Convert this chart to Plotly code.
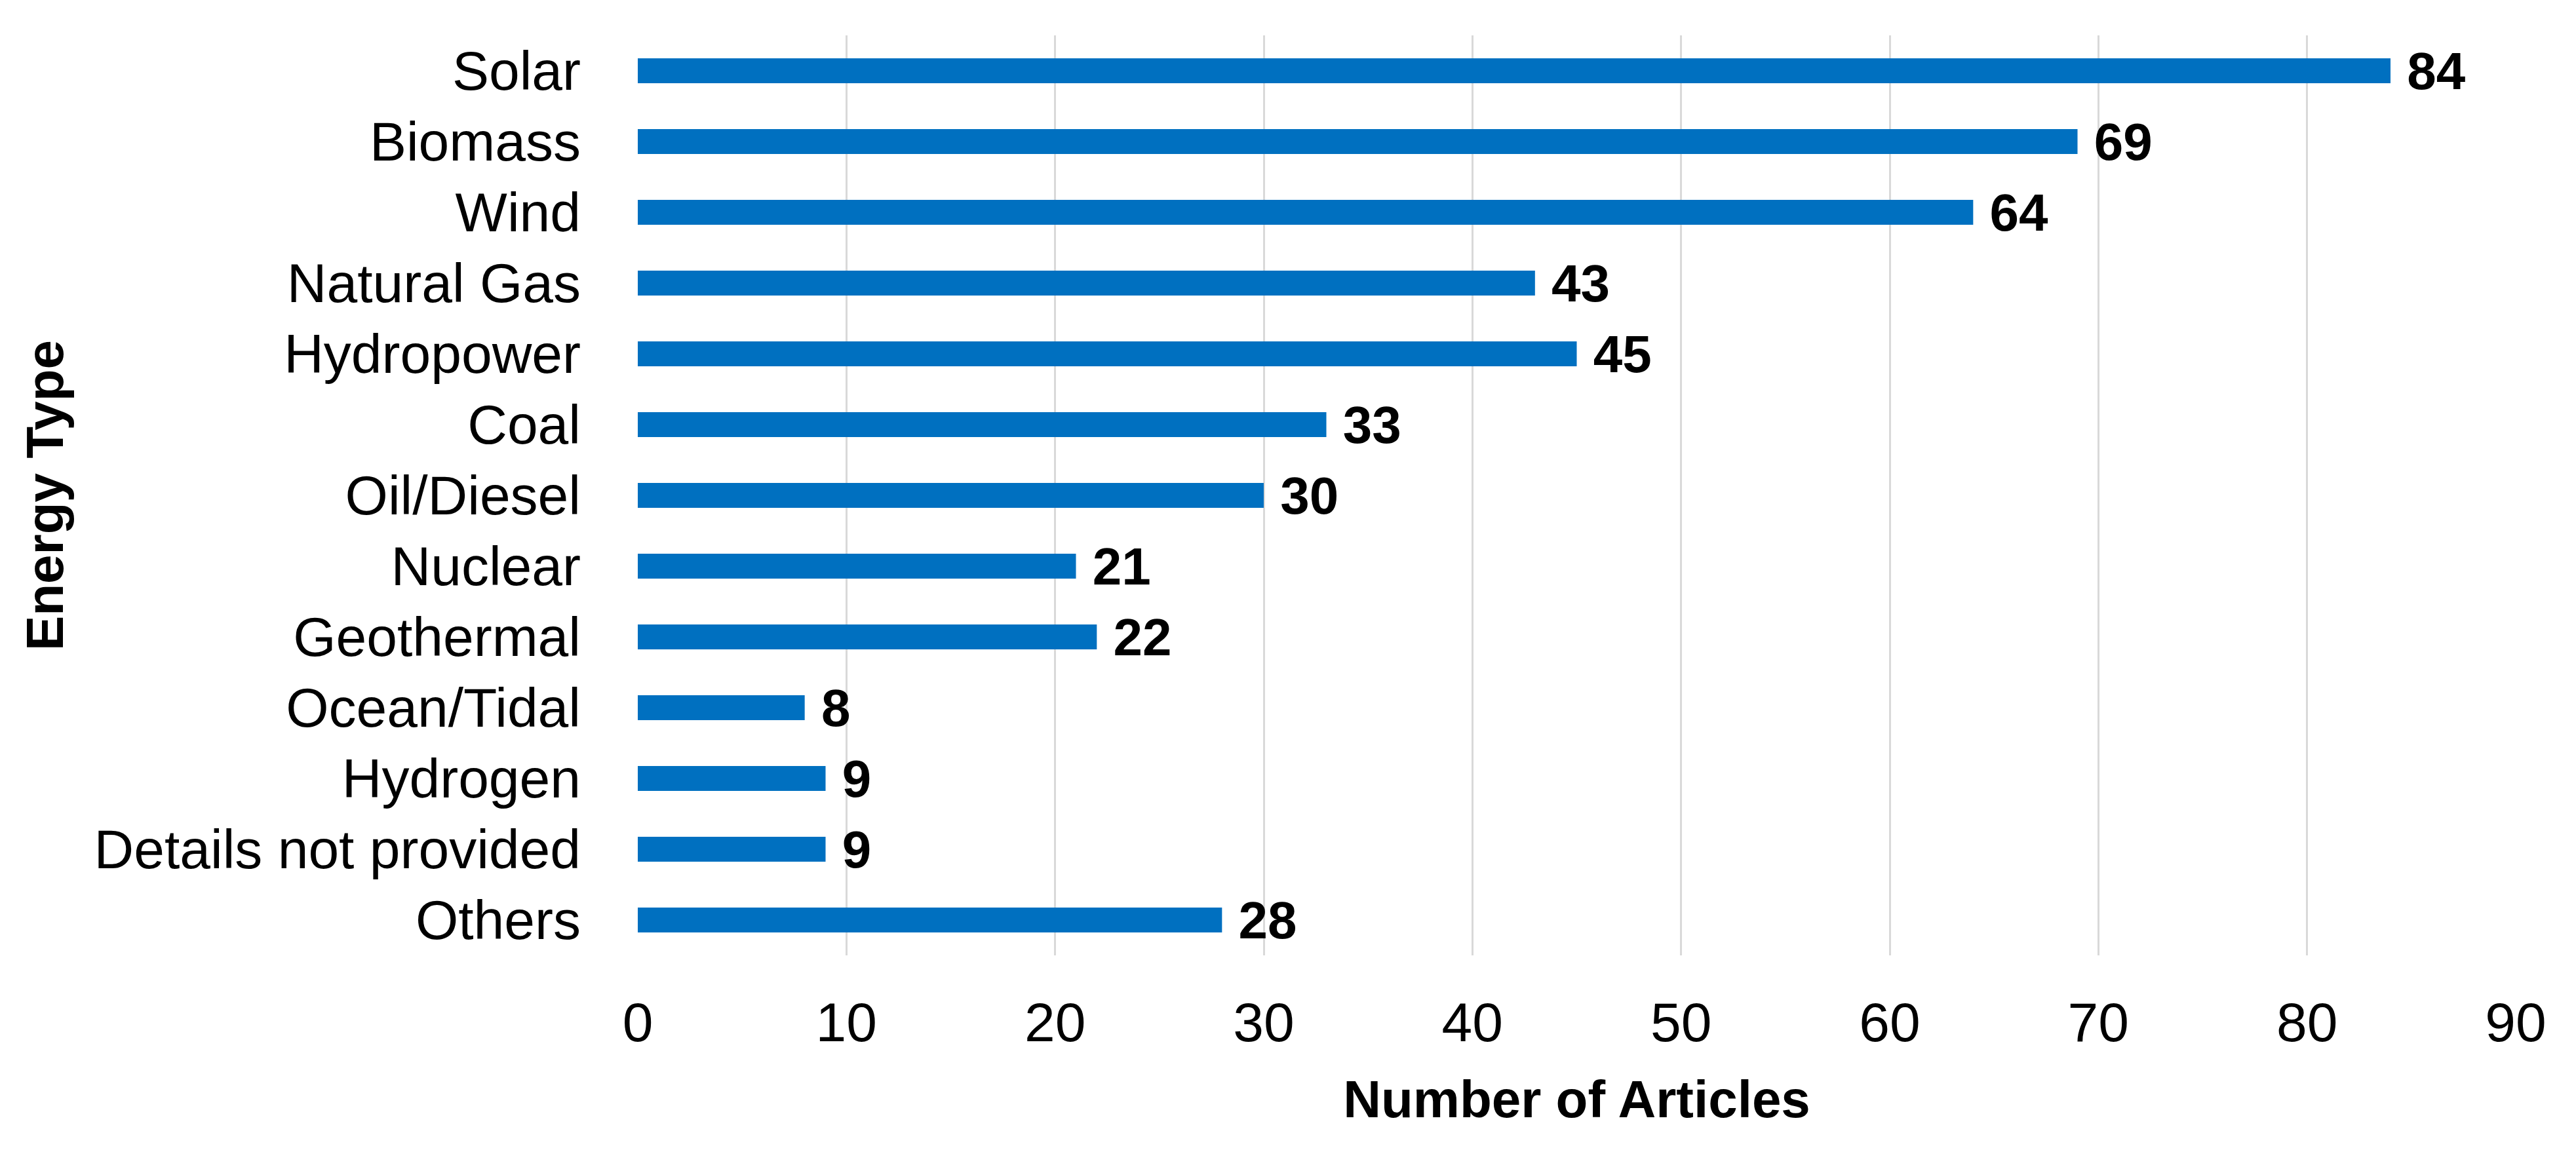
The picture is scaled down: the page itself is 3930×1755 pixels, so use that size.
import plotly.graph_objects as go

categories = ["Solar", "Biomass", "Wind", "Natural Gas", "Hydropower", "Coal",
              "Oil/Diesel", "Nuclear", "Geothermal", "Ocean/Tidal", "Hydrogen",
              "Details not provided", "Others"]
articles = [84, 69, 64, 43, 45, 33, 30, 21, 22, 8, 9, 9, 28]
x_ticks = [0, 10, 20, 30, 40, 50, 60, 70, 80, 90]

FONT = "Liberation Sans Narrow, Arial Narrow, Liberation Sans, Arial, sans-serif"

fig = go.Figure(go.Bar(
    y=categories,
    x=articles,
    orientation="h",
    marker=dict(color="#0070C0", line=dict(width=0)),
    text=articles,
    texttemplate="\u00a0%{x}",
    textposition="outside",
    constraintext="none",
    textfont=dict(family=FONT, size=80, color="#000000", weight="bold"),
    cliponaxis=False,
))

fig.update_layout(
    width=3930, height=1755,
    margin=dict(l=965, r=100, t=46, b=305),
    plot_bgcolor="white", paper_bgcolor="white",
    bargap=0.65,
    showlegend=False,
    font=dict(family=FONT, color="#000000"),
)

fig.update_xaxes(
    range=[0, 90],
    tickvals=x_ticks,
    showgrid=True, gridcolor="#D9D9D9", gridwidth=3,
    zeroline=False, showline=False,
    tickfont=dict(family=FONT, size=84, color="#000000"),
    ticklabelstandoff=46,
    title=dict(text="Number of Articles",
               font=dict(family=FONT, size=80, color="#000000", weight="bold"),
               standoff=42),
)

fig.update_yaxes(
    categoryorder="array", categoryarray=categories,
    autorange="reversed",
    showgrid=False, zeroline=False, showline=False,
    tickfont=dict(family=FONT, size=84, color="#000000"),
    ticklabelstandoff=86,
    title=dict(text="Energy Type",
               font=dict(family=FONT, size=80, color="#000000", weight="bold"),
               standoff=20),
)

fig.write_html("out.html")
